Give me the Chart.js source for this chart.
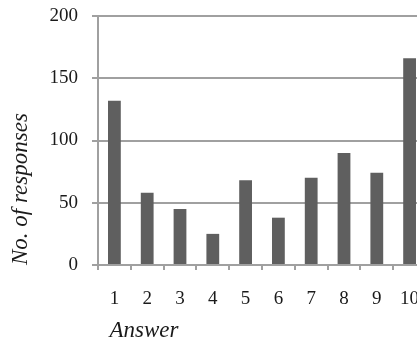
<!DOCTYPE html>
<html lang="en">
<head>
  <meta charset="UTF-8">
  <title>No. of responses per answer</title>
  <script src="https://cdn.jsdelivr.net/npm/chart.js"></script>
  <style>
    html, body { margin: 0; padding: 0; background: #fff; overflow: hidden; }
    .wrap { width: 430px; height: 339px; }
  </style>
</head>
<body>
  <div class="wrap">
    <canvas id="answerChart" width="430" height="339"></canvas>
  </div>

  <script>
    // Data
    const answers = ['1', '2', '3', '4', '5', '6', '7', '8', '9', '10'];
    const responses = [132, 58, 45, 25, 68, 38, 70, 90, 74, 166];
    const yTicks = [0, 50, 100, 150, 200];

    const gridGray = '#a0a0a0';
    const textColor = '#1a1a1a';
    const serif = "'Liberation Serif', 'DejaVu Serif', serif";

    // keep the plot area where the reference has it (labels may hang outside)
    function noEdgePadding(scale) {
      scale.paddingTop = 0;
      scale.paddingBottom = 0;
      scale.paddingLeft = 0;
      scale.paddingRight = 0;
    }

    new Chart(document.getElementById('answerChart'), {
      type: 'bar',
      data: {
        labels: answers,
        datasets: [{
          label: 'No. of responses',
          data: responses,
          backgroundColor: '#5f5f5f',
          borderWidth: 0,
          barPercentage: 0.39,
          categoryPercentage: 1
        }]
      },
      options: {
        responsive: false,
        animation: false,
        layout: { padding: { top: 16, right: 4, left: 0, bottom: 0 } },
        plugins: {
          legend: { display: false },
          tooltip: { enabled: false }
        },
        scales: {
          x: {
            grid: {
              display: true,
              drawOnChartArea: false,
              drawTicks: true,
              tickLength: 5,
              color: gridGray,
              lineWidth: 2
            },
            border: { display: true, color: gridGray, width: 2 },
            ticks: {
              color: textColor,
              padding: 18,
              font: { family: serif, size: 19 }
            },
            title: {
              display: true,
              text: '  Answer',
              align: 'start',
              color: textColor,
              padding: { top: 0, bottom: 1 },
              font: { family: serif, size: 23, style: 'italic', lineHeight: 0.6 }
            },
            afterFit: (scale) => { scale.height = 74; noEdgePadding(scale); }
          },
          y: {
            min: 0,
            max: 200,
            afterBuildTicks: (scale) => { scale.ticks = yTicks.map(v => ({ value: v })); },
            grid: {
              color: gridGray,
              lineWidth: 2,
              drawTicks: true,
              tickLength: 6
            },
            border: { display: true, color: gridGray, width: 2 },
            ticks: {
              color: textColor,
              padding: 14,
              font: { family: serif, size: 19 }
            },
            title: {
              display: true,
              text: 'No. of responses',
              align: 'start',
              color: textColor,
              padding: { top: 7, bottom: 0 },
              font: { family: serif, size: 23, style: 'italic' }
            },
            afterFit: (scale) => { scale.width = 98; noEdgePadding(scale); }
          }
        }
      }
    });
  </script>
</body>
</html>
